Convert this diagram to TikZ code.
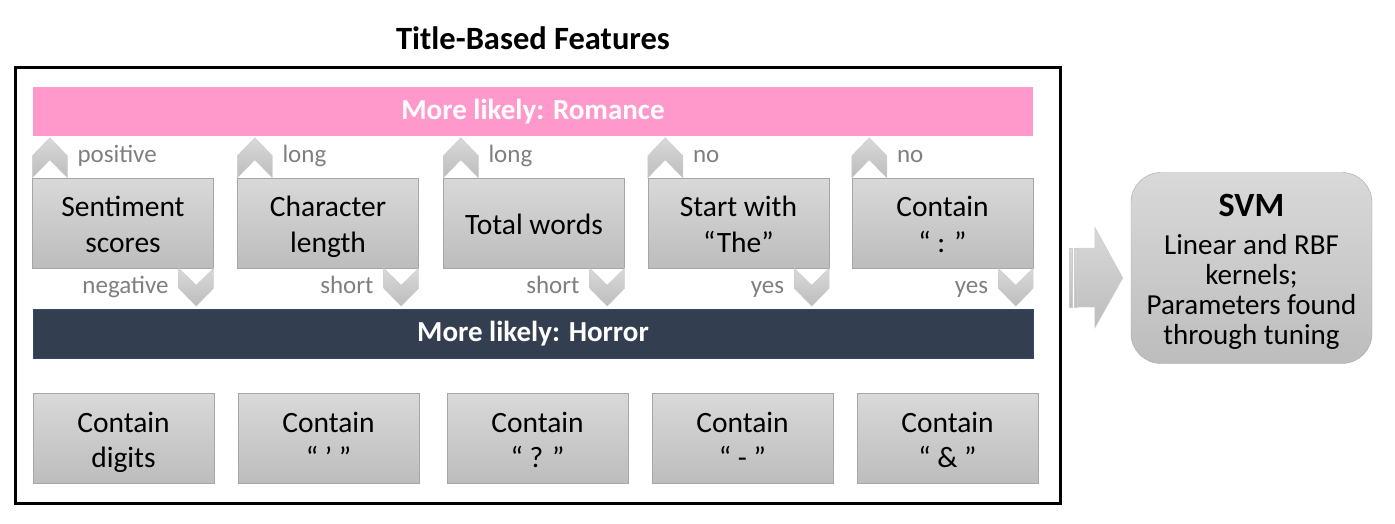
\documentclass[tikz,border=0pt]{standalone}
\usepackage{fontspec}
\setmainfont{Carlito}
\usetikzlibrary{calc}
\definecolor{romance}{HTML}{FF99CC}
\definecolor{horror}{HTML}{333F50}
\definecolor{horroredge}{HTML}{2F4B6E}
\definecolor{lblgray}{HTML}{7F7F7F}
\newcommand{\topstrut}{\rule{0pt}{29pt}}
\newcommand{\botstrut}{\rule[-6.5pt]{0pt}{6.5pt}}

\begin{document}
\begin{tikzpicture}[x=1pt, y=-1pt,
    feature/.style={draw=gray!70, top color=gray!30, bottom color=gray!52,
        minimum width=181pt, minimum height=90pt, inner sep=0pt, align=center,
        font=\fontsize{29.5}{35.5}\selectfont},
    chev/.style={draw=gray!40, top color=gray!30, bottom color=gray!52},
    banner/.style={minimum width=1000pt, minimum height=49pt, inner sep=0pt,
        text=white, font=\fontsize{29}{29}\selectfont\bfseries},
    lbl/.style={text=lblgray, font=\fontsize{25}{25}\selectfont, inner sep=0pt}]
    \useasboundingbox (0,0) rectangle (1395,524);

    % Frame and title
    \node[draw, line width=3pt, minimum width=1045pt, minimum height=435pt] (frame) at (537.5,285.5) {};
    \node[font=\fontsize{32.5}{32.5}\selectfont\bfseries] (title) at (533,38) {Title-Based Features};

    % Class banners
    \node[banner, fill=romance] (romance) at (533,111.5) {More likely: Romance};
    \node[banner, fill=horror, draw=horroredge] (horror) at (533,333.5) {More likely: Horror};

    % Features with a direction
    \node[feature] (sent) at (123,223) {\topstrut Sentiment\\scores\botstrut};
    \node[feature] (charlen) at (328,223) {\topstrut Character\\length\botstrut};
    \node[feature] (words) at (534,223) {\topstrut Total words\botstrut};
    \node[feature] (startthe) at (738.5,223) {\topstrut Start with\\“The”\botstrut};
    \node[feature] (colon) at (942.5,223) {\topstrut Contain\\“ : ”\botstrut};

    % Chevrons
    \foreach \b in {sent,charlen,words,startthe,colon} {
        \draw[chev] (\b.north west) -- ++(0,-22) -- ++(17.5,-18) -- ++(17.5,18)
            -- ++(0,22) -- ++(-17.5,-18) -- cycle;
        \draw[chev] (\b.south east) ++(-35,0) -- ++(17.5,17) -- ++(17.5,-17)
            -- ++(0,20) -- ++(-17.5,18) -- ++(-17.5,-18) -- cycle;
    }

    % Direction labels
    \node[lbl, anchor=base west] (sentup) at ($(sent.north west)+(45,-15)$) {positive};
    \node[lbl, anchor=base west] (charlenup) at ($(charlen.north west)+(45,-15)$) {long};
    \node[lbl, anchor=base west] (wordsup) at ($(words.north west)+(45,-15)$) {long};
    \node[lbl, anchor=base west] (starttheup) at ($(startthe.north west)+(45,-15)$) {no};
    \node[lbl, anchor=base west] (colonup) at ($(colon.north west)+(45,-15)$) {no};
    \node[lbl, anchor=base east] (sentdown) at ($(sent.south east)+(-45,25)$) {negative};
    \node[lbl, anchor=base east] (charlendown) at ($(charlen.south east)+(-45,25)$) {short};
    \node[lbl, anchor=base east] (wordsdown) at ($(words.south east)+(-45,25)$) {short};
    \node[lbl, anchor=base east] (starttheedown) at ($(startthe.south east)+(-45,25)$) {yes};
    \node[lbl, anchor=base east] (colondown) at ($(colon.south east)+(-45,25)$) {yes};

    % Other features
    \node[feature] (digits) at (123.5,438.5) {\topstrut Contain\\digits\botstrut};
    \node[feature] (apos) at (328.5,438.5) {\topstrut Contain\\“ ’ ”\botstrut};
    \node[feature] (quest) at (537.5,438.5) {\topstrut Contain\\“ ? ”\botstrut};
    \node[feature] (hyph) at (742.5,438.5) {\topstrut Contain\\“ - ”\botstrut};
    \node[feature] (amp) at (947.5,438.5) {\topstrut Contain\\“ \& ”\botstrut};

    % Classifier
    \node[feature, rounded corners=30pt, minimum width=241pt, minimum height=191pt,
        font=\fontsize{29}{30}\selectfont] (svm) at (1251.5,268)
        {\rule{0pt}{30pt}{\fontsize{34}{34}\selectfont\bfseries SVM}\\[8pt]Linear and RBF\\kernels;\\Parameters found\\through tuning};

    % Striped arrow from frame to SVM
    \coordinate (atip) at ($(svm.west)+(-8,10)$);
    \draw[chev] (atip) -- ++(-28,-51) -- ++(0,21) -- ++(-18,0) -- ++(0,59)
        -- ++(18,0) -- ++(0,21) -- cycle;
    \draw[chev] ($(frame.east)+(8,-37.5)$) rectangle ++(3,59);
    \draw[chev] ($(frame.east)+(13,-37.5)$) rectangle ++(2.5,59);
\end{tikzpicture}
\end{document}
